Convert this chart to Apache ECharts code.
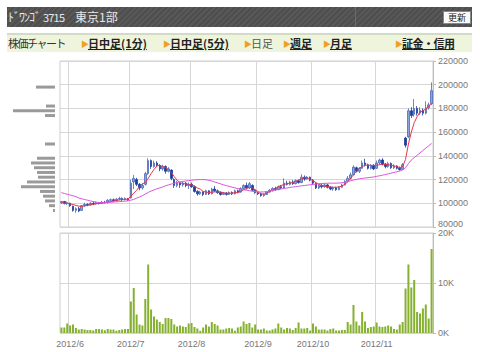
<!DOCTYPE html>
<html><head><meta charset="utf-8">
<script src="https://cdn.jsdelivr.net/npm/echarts@6/dist/echarts.min.js"></script>
<style>
html,body{margin:0;padding:0;background:#fff;width:480px;height:352px;overflow:hidden;font-family:"Noto Sans CJK JP","Noto Sans",sans-serif;}
#chart{position:absolute;left:0;top:0;width:480px;height:352px;}
#hdr{position:absolute;left:7px;top:7px;width:465px;height:20px;background:repeating-linear-gradient(135deg,#4e4e4e 0 2px,#585858 2px 4px);}
#hdr .t{position:absolute;top:1px;color:#e8e8e8;font-size:12px;line-height:18px;white-space:nowrap;}
#hdr .div{position:absolute;left:348px;top:0;width:1px;height:20px;background:#6a6a6a;}
#btn{position:absolute;left:436px;top:4px;width:26px;height:11px;background:#fafafa;border:1px solid #888;font-size:9px;line-height:11px;text-align:center;color:#222;}
#nav{position:absolute;left:7px;top:33px;width:465px;height:17px;background:#eef5dc;border-top:2px solid #d2dcc4;}
#nav span{position:absolute;top:0;font-size:11px;line-height:17px;white-space:nowrap;color:#333;}
#nav .a{color:#f0a020;font-size:8px;line-height:17px;}
#nav .l{font-weight:bold;text-decoration:underline;color:#222;}
</style></head>
<body>
<div id="chart"></div>
<div id="hdr">
  <span class="t" style="left:1px;letter-spacing:-1px">ﾄﾞﾜﾝｺﾞ</span>
  <span class="t" style="left:36px;font-size:11px;letter-spacing:-0.8px">3715</span>
  <span class="t" style="left:68px">東京1部</span>
  <div class="div"></div>
  <div id="btn">更新</div>
</div>
<div id="nav">
  <span style="left:1px;letter-spacing:-1.5px">株価チャート</span>
  <span class="a" style="left:74px">&#9654;</span><span class="l" style="left:81px">日中足(1分)</span>
  <span class="a" style="left:156px">&#9654;</span><span class="l" style="left:163px">日中足(5分)</span>
  <span class="a" style="left:237px">&#9654;</span><span style="left:244px;color:#555">日足</span>
  <span class="a" style="left:276px">&#9654;</span><span class="l" style="left:283px">週足</span>
  <span class="a" style="left:316px">&#9654;</span><span class="l" style="left:323px">月足</span>
  <span class="a" style="left:388px">&#9654;</span><span class="l" style="left:395px;letter-spacing:-0.5px">証金・信用</span>
</div>
<script>
const dates = [
"2012/5/29","2012/5/30","2012/5/31",
"2012/6/1","2012/6/4","2012/6/5","2012/6/6","2012/6/7","2012/6/8","2012/6/11","2012/6/12","2012/6/13","2012/6/14","2012/6/15","2012/6/18","2012/6/19","2012/6/20","2012/6/21","2012/6/22","2012/6/25","2012/6/26","2012/6/27","2012/6/28","2012/6/29",
"2012/7/2","2012/7/3","2012/7/4","2012/7/5","2012/7/6","2012/7/9","2012/7/10","2012/7/11","2012/7/12","2012/7/13","2012/7/17","2012/7/18","2012/7/19","2012/7/20","2012/7/23","2012/7/24","2012/7/25","2012/7/26","2012/7/27","2012/7/30","2012/7/31",
"2012/8/1","2012/8/2","2012/8/3","2012/8/6","2012/8/7","2012/8/8","2012/8/9","2012/8/10","2012/8/13","2012/8/14","2012/8/15","2012/8/16","2012/8/17","2012/8/20","2012/8/21","2012/8/22","2012/8/23","2012/8/24","2012/8/27","2012/8/28","2012/8/29","2012/8/30","2012/8/31",
"2012/9/3","2012/9/4","2012/9/5","2012/9/6","2012/9/7","2012/9/10","2012/9/11","2012/9/12","2012/9/13","2012/9/14","2012/9/18","2012/9/19","2012/9/20","2012/9/21","2012/9/24","2012/9/25","2012/9/26","2012/9/27","2012/9/28",
"2012/10/1","2012/10/2","2012/10/3","2012/10/4","2012/10/5","2012/10/9","2012/10/10","2012/10/11","2012/10/12","2012/10/15","2012/10/16","2012/10/17","2012/10/18","2012/10/19","2012/10/22","2012/10/23","2012/10/24","2012/10/25","2012/10/26","2012/10/29","2012/10/30","2012/10/31",
"2012/11/1","2012/11/2","2012/11/5","2012/11/6","2012/11/7","2012/11/8","2012/11/9","2012/11/12","2012/11/13","2012/11/14","2012/11/15","2012/11/16","2012/11/19","2012/11/20","2012/11/21","2012/11/22","2012/11/26","2012/11/27","2012/11/28","2012/11/29"
];
const open = [
100500,101500,100000,100000,97500,94000,95500,94000,98000,99000,98500,100000,99500,100500,100000,101000,100500,102500,103000,102000,103500,104000,103000,104000,
104500,118000,120000,116000,113000,116000,125000,136000,131000,134000,132000,129000,131000,127000,128000,120000,115000,117000,115500,117000,115000,
116000,114000,110000,108000,109500,107500,110500,108000,112000,110500,109000,107500,108500,107500,109000,108000,110500,109500,112500,115000,113000,115000,111000,
109000,108000,106500,107500,109500,110500,112500,111500,114000,113000,117000,116000,118000,116500,119000,117500,122000,120500,122000,
119500,117000,113000,115000,114000,115500,113500,112000,113000,111500,113500,115500,118500,121000,124000,130000,127000,129500,134000,132500,129500,132000,
129500,134000,136500,133000,131000,133500,130000,131500,129500,128500,155000,156000,178000,175000,180000,176000,178500,176000,180500,184000
];
const close = [
101500,100000,100500,98000,94000,95500,93500,98000,99000,98500,100000,99500,100500,100000,101000,100500,102500,103000,102000,103500,104000,103000,104000,103000,
117000,121000,116000,113000,115000,125000,136000,131000,134000,132000,129000,131000,127000,129000,121000,115000,117500,115500,117000,115000,116000,
114000,110000,108000,109500,107500,110500,108000,112000,110500,109000,107500,108500,107500,109000,108000,110500,109500,112500,115000,113000,116500,111000,109000,
108000,106500,107500,109500,111000,112500,111500,114000,113000,117000,116000,118000,116500,119000,117500,122000,120500,122000,119500,
117000,113000,115000,114000,115500,113500,112000,113000,111500,113500,115500,118500,121000,124000,130500,127000,129500,134000,132500,129500,132000,129000,
134000,136500,133000,131000,133500,130000,131500,129500,128500,132500,149000,178000,174000,180000,176000,178500,176000,180500,183000,195000
];
const low = [
99500,99000,98500,97000,93000,92000,92500,93500,97000,97500,98000,98500,99000,99000,99500,100000,100000,101500,101500,101500,102500,102000,102500,102000,
104000,112000,114500,111000,111500,115000,124000,129000,130000,130500,127000,127500,125000,126000,119500,113000,113500,113000,114000,113500,112000,
113000,109000,106500,107000,106000,107000,107000,107500,109500,108000,106500,107000,106500,107000,107000,107500,108500,109000,111500,111500,112000,110000,108000,
107000,105500,105500,107000,109000,110000,110500,111000,112000,112500,115000,115000,115500,116000,116500,117000,119000,120000,118500,
116000,112000,112000,112500,113000,112500,111000,110500,110500,111000,113000,115000,117500,120000,123500,126000,125500,129000,131000,128500,128500,128000,
129000,132500,132000,129500,130000,129000,129000,128500,127500,128000,147000,155000,172000,173000,174000,174500,174000,175000,179000,183000
];
const high = [
102000,102000,101500,100500,98000,96500,97000,98500,100500,100000,101000,101500,101500,101000,102000,102000,103500,104000,104000,104500,105500,105000,105000,104500,
120000,124000,121500,117000,117000,126500,138000,137000,136000,135500,133000,132500,132000,130500,128500,121000,119000,118000,118500,118000,117500,
117500,115000,111000,110500,110000,111500,111000,113000,114500,111500,110000,109500,109500,110000,110000,111500,111500,113500,116000,117500,118000,116000,112000,
110500,109000,108500,110000,112000,113500,114000,115000,115500,121000,119000,119000,119500,120000,120000,124500,123500,123000,122500,
120500,117500,116000,116500,117000,116500,114500,114000,114000,114500,116500,119500,123000,126000,132000,131000,130500,136000,137500,133500,133000,133000,
136000,137500,138000,134000,135000,134500,133000,132000,131000,134000,156000,180000,181000,188000,182000,181000,180000,186000,185000,202000
];
const volume = [
1100,1100,1900,
1500,1700,1000,700,800,700,600,600,500,800,800,700,550,800,700,700,450,600,700,800,800,
6300,9000,3700,1700,1500,6800,13700,4700,3300,2700,2200,1800,3000,3000,2800,1700,1300,1500,1300,1200,1900,
2000,1200,900,450,1100,1700,1300,2200,1800,1500,700,700,900,1000,900,450,1100,1300,2300,1800,2000,1100,1700,
700,700,900,500,500,700,900,1900,1100,700,1000,900,600,1000,2100,900,900,1000,500,
1900,1300,700,700,700,500,800,900,500,500,600,600,2200,1700,5600,2300,1500,4200,2300,1000,1200,1300,
2100,1300,1200,1300,1500,1300,800,700,1700,2200,8900,13700,9100,10600,4200,3900,4900,5700,2900,16800
];
const maShort = [
100500,100300,100000,99500,99000,98200,97600,97400,97800,98300,98800,99200,99600,99900,100200,100400,100900,101400,102000,102400,102800,103200,103400,103500,
106000,108500,111000,114000,116500,117500,121000,125000,128500,131500,132000,131000,130000,128500,126000,122500,119500,117500,116500,116500,116000,
115500,114500,113000,112000,110000,109500,109000,109500,109500,110000,109500,109000,108500,108500,108500,109000,109000,110000,111500,112500,113500,113000,111500,
109500,108000,107600,108500,110000,111000,112500,114000,115000,116000,116500,117000,117500,118500,119500,120500,121500,121500,120500,
119000,117500,116000,115000,114500,114000,113800,113500,113500,113800,114500,116000,118000,121000,124000,127000,129500,131000,132000,132200,132000,131800,
132000,132500,133000,133000,132500,132000,131500,131000,130000,131000,137000,150000,160000,168000,173000,177000,178000,179500,181500,184000
];
const maLong = [
109000,108300,107600,107000,106300,105600,104500,103800,103200,102600,102000,101500,101000,100700,100600,100600,100700,100800,101000,101200,101400,101600,101800,102000,
102600,103300,104300,105300,106500,107800,109200,110300,111300,112200,113000,113800,114700,115500,116200,116900,117500,118000,118400,118800,119100,
119400,119700,119900,120000,120000,119800,119400,118800,118000,117200,116400,115600,114900,114300,113600,113000,112400,111900,111400,111000,110600,110200,109800,
109600,109500,109600,109900,110300,110800,111300,111700,112100,112500,112900,113300,113700,114000,114400,114700,115000,115300,115600,
115900,116200,116500,116700,116800,116900,117000,117000,117000,117100,117300,117700,118300,119000,119600,120200,120600,121000,121300,121600,121900,122200,
122700,123200,123700,124200,124800,125400,126000,126600,127200,128200,130000,133500,136500,138500,140500,142500,144500,146500,148500,150500
];
// price-by-volume histogram (left margin)
const pvPrice  = [94000,98000,102000,106000,110000,114000,118000,122000,126000,130000,134000,138000,150000,174000,178000,182000,198000];
const pvVolume = [2,6,10,12,15,34,28,17,18,21,24,18,10,10,42,9,19];
const priceTicks = {min:80000, max:220000, interval:20000};
const volTicks = {min:0, max:20000, interval:10000};

const monthStart = new Set();
dates.forEach((d,i)=>{ if(i>0 && d.split('/')[1]!==dates[i-1].split('/')[1]) monthStart.add(i); });
const monthLabel = v => { const p=v.split('/'); return p[0]+'/'+p[1]; };

const candle = dates.map((d,i)=>[open[i],close[i],low[i],high[i]]);
const pv = pvPrice.map((p,i)=>[pvVolume[i],p]);

const chart = echarts.init(document.getElementById('chart'), null, {renderer:'svg'});
const gridLine = {show:true, interval:(i)=>monthStart.has(i), lineStyle:{color:'#d6d6d6',width:1}};
chart.setOption({
  animation:false,
  textStyle:{fontFamily:'Liberation Sans'},
  grid:[
    {left:60, top:61, width:373, height:166, show:true, borderColor:'#cfcfcf', borderWidth:1},
    {left:60, top:233, width:373, height:100, show:true, borderColor:'#cfcfcf', borderWidth:1},
    {left:12, top:61, width:43, height:166}
  ],
  xAxis:[
    {type:'category', gridIndex:0, data:dates, boundaryGap:true, axisLine:{show:false}, axisTick:{show:false}, axisLabel:{show:false}, splitLine:gridLine},
    {type:'category', gridIndex:1, data:dates, boundaryGap:true, axisLine:{show:false}, axisTick:{show:false},
     axisLabel:{show:true, interval:(i)=>monthStart.has(i), formatter:monthLabel, color:'#777', fontSize:9, margin:6}, splitLine:gridLine},
    {type:'value', gridIndex:2, inverse:true, min:0, max:43, show:false}
  ],
  yAxis:[
    {type:'value', gridIndex:0, position:'right', min:priceTicks.min, max:priceTicks.max, interval:priceTicks.interval,
     axisLine:{show:true, lineStyle:{color:'#bbb'}}, axisTick:{show:true, length:3, lineStyle:{color:'#bbb'}},
     axisLabel:{color:'#777', fontSize:9, margin:5, lineHeight:7, showMinLabel:true,
       formatter:v=> v===priceTicks.min ? v+'\n ' : String(v)},
     splitLine:{show:true, lineStyle:{color:'#d6d6d6'}}},
    {type:'value', gridIndex:1, position:'right', min:volTicks.min, max:volTicks.max, interval:volTicks.interval,
     axisLine:{show:true, lineStyle:{color:'#bbb'}}, axisTick:{show:true, length:3, lineStyle:{color:'#bbb'}},
     axisLabel:{color:'#777', fontSize:9, margin:5, formatter:v=>(v/1000)+'K'}, splitLine:{show:true, lineStyle:{color:'#d6d6d6'}}},
    {type:'value', gridIndex:2, min:priceTicks.min, max:priceTicks.max, show:false}
  ],
  series:[
    {type:'candlestick', xAxisIndex:0, yAxisIndex:0, data:candle, barWidth:2,
     itemStyle:{color:'#8aa5d8', color0:'#1e3e9a', borderColor:'#4a6ab8', borderColor0:'#1e3e9a', borderWidth:0.8}},
    {type:'line', xAxisIndex:0, yAxisIndex:0, data:maShort, symbol:'none', lineStyle:{color:'#e8344e', width:1}},
    {type:'line', xAxisIndex:0, yAxisIndex:0, data:maLong, symbol:'none', lineStyle:{color:'#dd55dd', width:1}},
    {type:'bar', xAxisIndex:1, yAxisIndex:1, data:volume, barWidth:2, itemStyle:{color:'#86b030'}},
    {type:'custom', xAxisIndex:2, yAxisIndex:2, data:pv,
     renderItem:(params, api)=>{
       const a = api.coord([0, api.value(1)]);
       const b = api.coord([api.value(0), api.value(1)]);
       return {type:'rect', shape:{x:Math.min(a[0],b[0]), y:a[1]-1.5, width:Math.abs(b[0]-a[0]), height:3}, style:{fill:'#9a9a9a'}};
     }}
  ]
});
</script>
</body></html>
